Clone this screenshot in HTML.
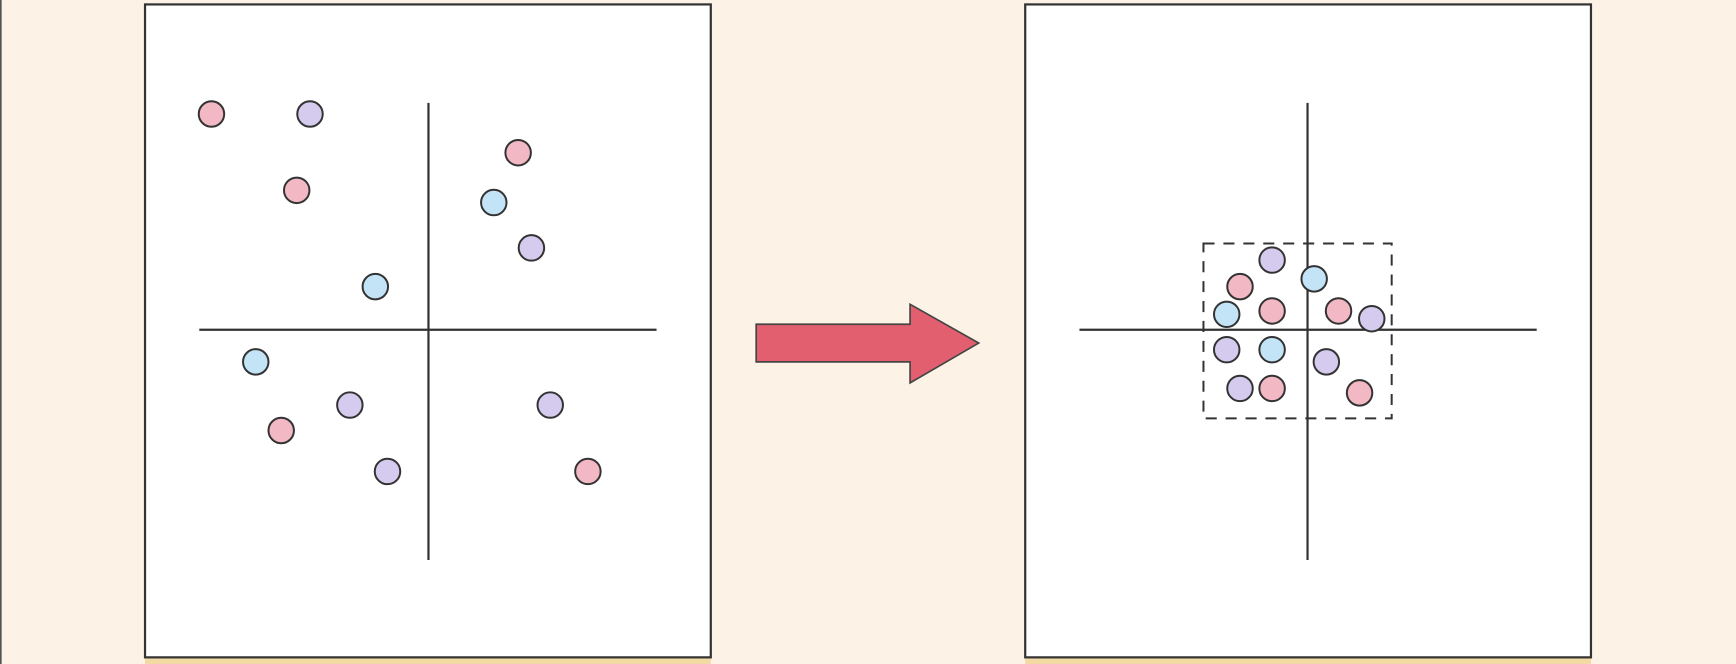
<!DOCTYPE html>
<html><head><meta charset="utf-8"><style>
html,body{margin:0;padding:0;background:#fcf3e6;}
svg{display:block}
</style></head><body>
<svg id="fig" width="1736" height="664" viewBox="0 0 1568 600" preserveAspectRatio="none" xmlns="http://www.w3.org/2000/svg">
<rect x="0" y="0" width="1568" height="600" fill="#fcf3e6"/>
<rect x="0" y="0" width="1.5" height="600" fill="#555"/>
<rect x="131" y="594" width="511" height="6" fill="#f3d9a4"/>
<rect x="926" y="594" width="511" height="6" fill="#f3d9a4"/>
<rect x="131" y="4" width="511" height="590" fill="#fff" stroke="#333" stroke-width="2"/>
<rect x="926" y="4" width="511" height="590" fill="#fff" stroke="#333" stroke-width="2"/>
<g stroke="#333" stroke-width="2">
<line x1="387" y1="93" x2="387" y2="506"/><line x1="180" y1="298" x2="593" y2="298"/>
</g>
<g stroke="#333" stroke-width="2">
<line x1="1181" y1="93" x2="1181" y2="506"/><line x1="975" y1="298" x2="1388" y2="298"/>
</g>
<rect x="1087" y="220" width="170" height="158" fill="none" stroke="#333" stroke-width="1.8" stroke-dasharray="10,8"/>
<polygon points="683,293 822,293 822,275 884,310 822,346 822,327 683,327" fill="#e25f6f" stroke="#444" stroke-width="1.5"/>
<g id="leftPts"></g><g id="rightPts"></g>
</svg>
<script>
// positions relative to axis origin (x right, y up), in plot units
const colorsKey = {pink:"#f2b8c4", purple:"#d5cbef", blue:"#c3e3f7"};
const leftCats = ["pink","purple","pink","pink","blue","purple","blue","blue","purple","purple","pink","purple","pink"];
const leftX = [-196,-107,81,-119,59,93,-48,-156,-71,110,-133,-37,144];
const leftY = [195,195,160,126,115,74,39,-29,-68,-68,-91,-128,-128];
const rightCats = ["purple","pink","blue","blue","pink","pink","purple","purple","blue","purple","purple","pink","pink"];
const rightX = [-32,-61,6,-73,-32,28,58,-73,-32,17,-61,-32,47];
const rightY = [63,39,46,14,17,17,10,-18,-18,-29,-53,-53,-57];
function sx(o,v){return o+v;}
function sy(o,v){return o-v;}
function draw(gid,cats,xs,ys,ox,oy,prefix){
  const g=document.getElementById(gid);
  for(let i=0;i<cats.length;i++){
    const c=document.createElementNS("http://www.w3.org/2000/svg","circle");
    c.setAttribute("cx",sx(ox,xs[i]));c.setAttribute("cy",sy(oy,ys[i]));
    c.setAttribute("r",11.5);c.setAttribute("fill",colorsKey[cats[i]]);
    c.setAttribute("stroke","#333");c.setAttribute("stroke-width","1.8");
    
    
    g.appendChild(c);
  }
}
draw("leftPts",leftCats,leftX,leftY,387,298,"left");
draw("rightPts",rightCats,rightX,rightY,1181,298,"right");
</script>
</body></html>
